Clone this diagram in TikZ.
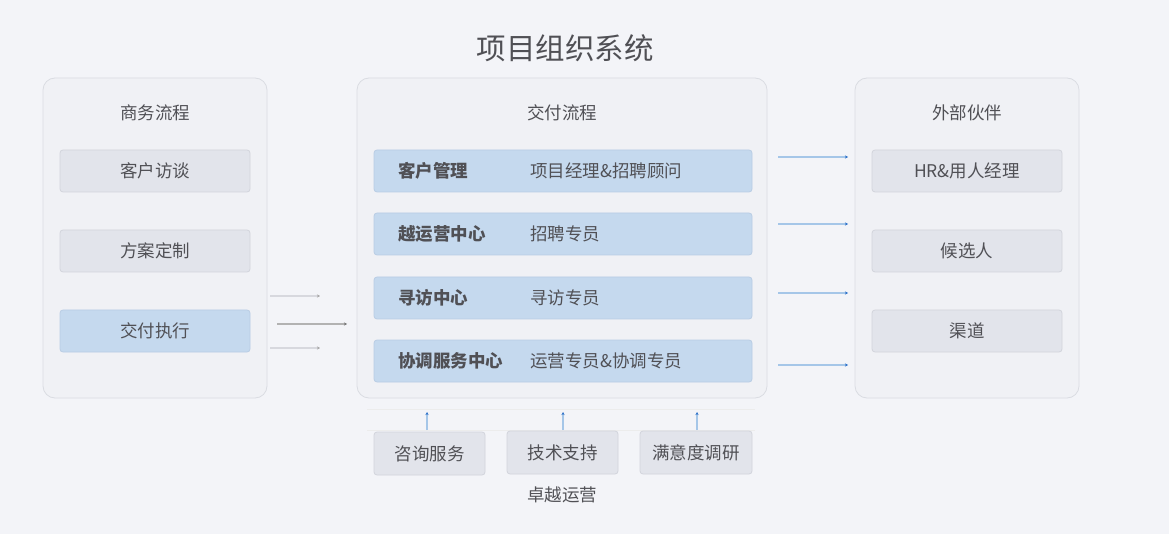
\documentclass[tikz,border=0pt]{standalone}
\usepackage{fontspec}
\setmainfont{Noto Sans CJK SC}
\usetikzlibrary{arrows.meta}
\definecolor{bg}{RGB}{243,244,248}
\definecolor{panelfill}{RGB}{240,241,245}
\definecolor{panelline}{RGB}{218,220,226}
\definecolor{boxfill}{RGB}{226,228,235}
\definecolor{boxline}{RGB}{210,212,220}
\definecolor{bluefill}{RGB}{197,217,238}
\definecolor{blueline}{RGB}{185,205,228}
\definecolor{txt}{RGB}{80,80,85}
\definecolor{arrblue}{RGB}{165,198,232}
\definecolor{tipblue}{RGB}{40,110,200}
\definecolor{arrgray}{RGB}{215,216,222}
\tikzset{
  panel/.style={draw=panelline, fill=panelfill, rounded corners=12pt, line width=0.8pt},
  gbox/.style={draw=boxline, fill=boxfill, rounded corners=3pt, line width=0.8pt},
  bbox/.style={draw=blueline, fill=bluefill, rounded corners=3pt, line width=0.8pt},
  ttext/.style={text=txt, font=\fontsize{17.5}{20}\selectfont},
  lbl/.style={ttext, anchor=west, inner sep=0pt},
  blbl/.style={text=txt, font=\bfseries\fontsize{17.5}{20}\selectfont, anchor=west, inner sep=0pt},
  barrow/.style={draw=arrblue, line width=1.2pt, -{Stealth[length=3pt,width=3pt,color=tipblue]}},
  garrow/.style={draw=arrgray, line width=1.2pt, -{Stealth[length=3pt,width=3pt,color=gray!70]}},
  darrow/.style={draw=gray!60, line width=1.2pt, -{Stealth[length=3pt,width=3pt,color=gray!90!black]}},
}
\begin{document}
\begin{tikzpicture}[x=1pt,y=-1pt]
\fill[bg] (0,0) rectangle (1169,534);
\useasboundingbox (0,0) rectangle (1169,534);
\node[text=txt, font=\fontsize{29.5}{34}\selectfont] (title) at (565,48) {项目组织系统};
% panels
\draw[panel] (43,78) rectangle (267,398);
\draw[panel] (357,78) rectangle (767,398);
\draw[panel] (855,78) rectangle (1079,398);
\node[ttext] (t1) at (155,113) {商务流程};
\node[ttext] (t2) at (562,113) {交付流程};
\node[ttext] (t3) at (967,113) {外部伙伴};
% left boxes
\path[gbox] (60,150) rectangle (250,192);
\node[ttext] (l1) at (155,171) {客户访谈};
\path[gbox] (60,230) rectangle (250,272);
\node[ttext] (l2) at (155,251) {方案定制};
\path[bbox] (60,310) rectangle (250,352);
\node[ttext] (l3) at (155,331) {交付执行};
% middle rows
\path[bbox] (374,150) rectangle (752,192);
\node[blbl] (m1a) at (398,171) {客户管理};
\node[lbl] (m1b) at (530,171) {项目经理\&招聘顾问};
\path[bbox] (374,213) rectangle (752,255);
\node[blbl] (m2a) at (398,234) {越运营中心};
\node[lbl] (m2b) at (530,234) {招聘专员};
\path[bbox] (374,277) rectangle (752,319);
\node[blbl] (m3a) at (398,298) {寻访中心};
\node[lbl] (m3b) at (530,298) {寻访专员};
\path[bbox] (374,340) rectangle (752,382);
\node[blbl] (m4a) at (398,361) {协调服务中心};
\node[lbl] (m4b) at (530,361) {运营专员\&协调专员};
% right boxes
\path[gbox] (872,150) rectangle (1062,192);
\node[ttext] (r1) at (967,171) {HR\&用人经理};
\path[gbox] (872,230) rectangle (1062,272);
\node[ttext] (r2) at (967,251) {候选人};
\path[gbox] (872,310) rectangle (1062,352);
\node[ttext] (r3) at (967,331) {渠道};
% left arrows
\coordinate (la1s) at (270,296); \coordinate (la1e) at (320,296);
\coordinate (la2s) at (277,324); \coordinate (la2e) at (347,324);
\coordinate (la3s) at (270,348); \coordinate (la3e) at (320,348);
\draw[garrow] (la1s) -- (la1e);
\draw[darrow] (la2s) -- (la2e);
\draw[garrow] (la3s) -- (la3e);
% right arrows
\foreach \y [count=\i] in {157,224,293,365}{
  \coordinate (ra\i s) at (778,\y); \coordinate (ra\i e) at (848,\y);
  \draw[barrow] (ra\i s) -- (ra\i e);
}
% bottom
\draw[draw=white!85!gray, line width=0.6pt] (367,409) -- (755,409);
\draw[draw=white!85!gray, line width=0.6pt] (367,430) -- (755,430);
\path[gbox] (374,432) rectangle (485,475);
\node[ttext] (b1) at (429.5,453.5) {咨询服务};
\path[gbox] (507,431) rectangle (618,474);
\node[ttext] (b2) at (562.5,452.5) {技术支持};
\path[gbox] (640,431) rectangle (752,474);
\node[ttext] (b3) at (696,452.5) {满意度调研};
\foreach \x [count=\i] in {427,563,697}{
  \coordinate (va\i s) at (\x,430); \coordinate (va\i e) at (\x,412);
  \draw[barrow] (va\i s) -- (va\i e);
}
\node[ttext] (bl) at (562,495) {卓越运营};
\end{tikzpicture}
\end{document}
